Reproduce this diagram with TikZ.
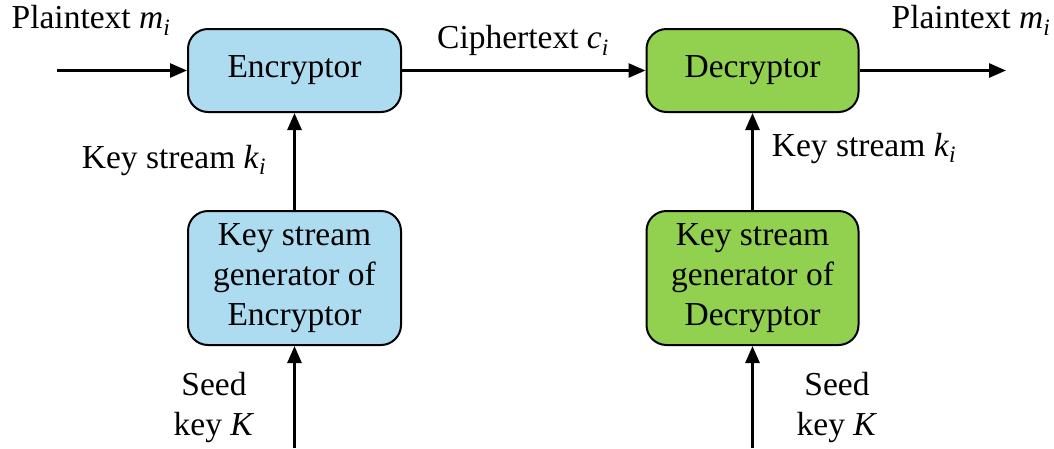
\documentclass[tikz,border=0pt]{standalone}
\usepackage{fontspec}
\setmainfont{Liberation Serif}
\usetikzlibrary{arrows.meta}
\definecolor{encblue}{HTML}{ADDCF0}
\definecolor{decgreen}{HTML}{92D050}
\newcommand{\itsub}[2]{\textit{#1}\textsubscript{\textit{#2}}}
\begin{document}
\begin{tikzpicture}[x=1pt,y=-1pt,
  box/.style={draw=black, line width=2pt, rounded corners=20pt, align=center,
    font=\fontsize{33.5}{40}\selectfont, inner sep=0pt},
  lbl/.style={font=\fontsize{33.5}{40}\selectfont, align=center, inner sep=0pt},
  conn/.style={line width=2.8pt, -{Triangle[length=17pt,width=14pt]}}]
\useasboundingbox (0,0) rectangle (1054,448);
\node[box, fill=encblue, minimum width=213pt, minimum height=83pt] (enc) at (294.5,70.5) {Encryptor};
\node[box, fill=decgreen, minimum width=212pt, minimum height=83pt] (dec) at (752.5,70.5) {Decryptor};
\node[box, fill=encblue, minimum width=213pt, minimum height=134pt] (kse) at (294.5,278) {Key stream\\generator of\\Encryptor};
\node[box, fill=decgreen, minimum width=212pt, minimum height=134pt] (ksd) at (752.5,278) {Key stream\\generator of\\Decryptor};
\coordinate (in) at (57,70.5);
\coordinate (out) at (1006,70.5);
\coordinate (s1) at (294.5,448);
\coordinate (s2) at (752.5,448);
\draw[conn] (in) -- (enc.west);
\draw[conn] (enc.east) -- (dec.west);
\draw[conn] (dec.east) -- (out);
\draw[conn] (kse.north) -- (enc.south);
\draw[conn] (ksd.north) -- (dec.south);
\draw[conn] (s1) -- (kse.south);
\draw[conn] (s2) -- (ksd.south);
\node[lbl] (p1) at (91,20) {Plaintext \itsub{m}{i}};
\node[lbl] (ct) at (523,40) {Ciphertext \itsub{c}{i}};
\node[lbl] (p2) at (971,20) {Plaintext \itsub{m}{i}};
\node[lbl] (k1) at (174,160) {Key stream \itsub{k}{i}};
\node[lbl] (k2) at (864,148) {Key stream \itsub{k}{i}};
\node[lbl] (sd1) at (214,407) {Seed\\key \textit{K}};
\node[lbl] (sd2) at (837,407) {Seed\\key \textit{K}};
\end{tikzpicture}
\end{document}
